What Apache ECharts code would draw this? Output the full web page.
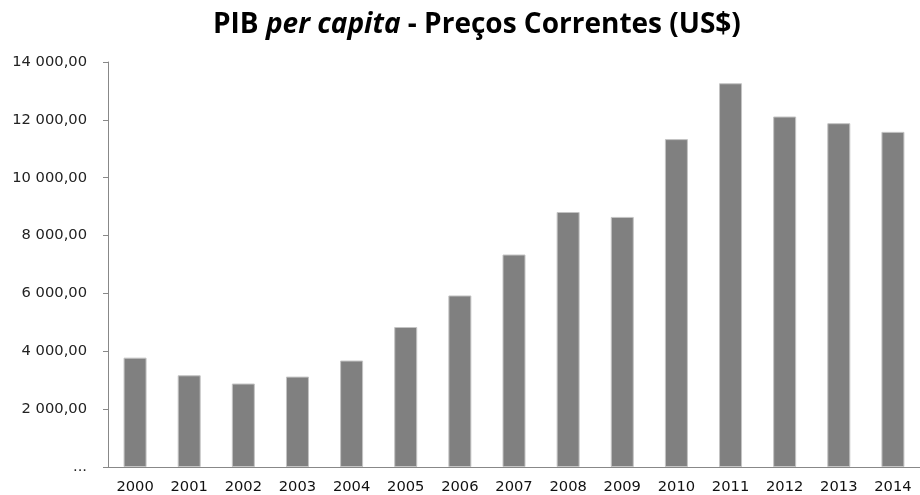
<!DOCTYPE html>
<html>
<head>
<meta charset="utf-8">
<script src="https://cdn.jsdelivr.net/npm/echarts@6/dist/echarts.min.js"></script>
<style>
    html, body {margin: 0; padding: 0; background: #fff;}
    #chart {width: 920px; height: 495px;}
</style>
</head>
<body>
<div id="chart"></div>
<script>
// anos e PIB per capita (US$)
const years = ['2000', '2001', '2002', '2003', '2004', '2005', '2006', '2007',
    '2008', '2009', '2010', '2011', '2012', '2013', '2014']
const pibPerCapita = [3780, 3170, 2885, 3125, 3680, 4840, 5930, 7345,
    8815, 8645, 11335, 13265, 12115, 11885, 11585]
const yTicks = [0, 2000, 4000, 6000, 8000, 10000, 12000, 14000]

function fmt(v) {
    if (v === 0) return '...'
    let s = String(Math.round(v))
    s = s.replace(/\B(?=(\d{3})+(?!\d))/g, ' ')
    return s + ',00'
}

let chart = echarts.init(document.getElementById('chart'))
chart.setOption({
    animation: false,
    title: {
        text: '{b|PIB }{i|per capita}{b| - Preços Correntes (US$)}',
        left: 208,
        top: 6,
        textStyle: {
            rich: {
                b: {fontFamily: 'Open Sans', fontWeight: 'bold', fontSize: 28, color: '#000'},
                i: {fontFamily: 'Open Sans', fontWeight: 'bold', fontStyle: 'italic', fontSize: 28, color: '#000'}
            }
        }
    },
    grid: {left: 108, top: 62, bottom: 27, right: -7},
    xAxis: {
        type: 'category',
        data: years,
        axisLine: {lineStyle: {color: '#888'}},
        axisTick: {length: 5, lineStyle: {color: '#888'}},
        axisLabel: {
            color: '#111', fontFamily: 'DejaVu Sans', fontSize: 14.7, margin: 13
        }
    },
    yAxis: {
        type: 'value',
        min: yTicks[0],
        max: yTicks[yTicks.length - 1],
        interval: 2000,
        axisLine: {show: true, lineStyle: {color: '#888'}},
        axisTick: {show: true, length: 5, lineStyle: {color: '#888'}},
        splitLine: {show: false},
        axisLabel: {
            color: '#222', fontFamily: 'DejaVu Sans', fontSize: 14.7, margin: 21,
            formatter: fmt
        }
    },
    series: [{
        type: 'bar',
        data: pibPerCapita,
        barWidth: 23,
        itemStyle: {color: '#808080', borderColor: '#c4c4c4', borderWidth: 1}
    }]
})
</script>
</body>
</html>
